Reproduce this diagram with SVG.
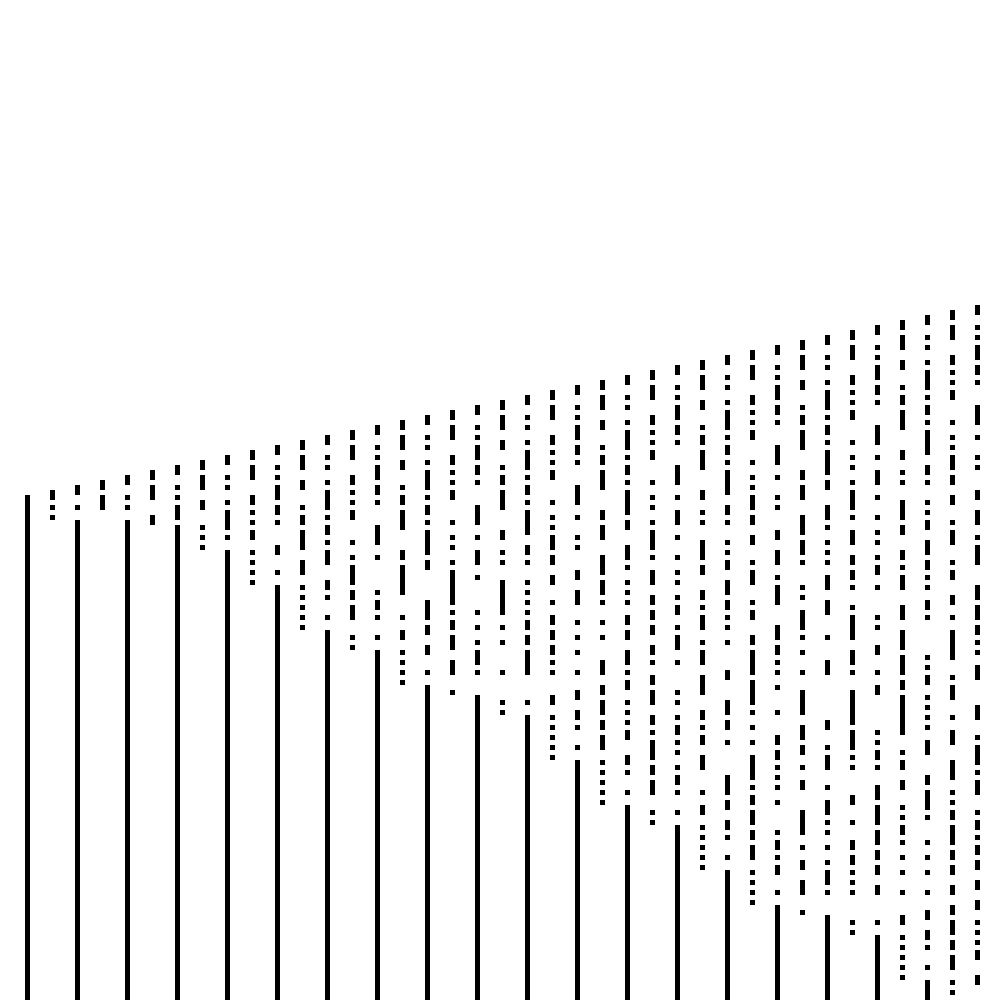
<svg xmlns="http://www.w3.org/2000/svg" width="1000" height="1000" viewBox="0 0 1000 1000">
<style>path{fill:none;stroke:#000;stroke-width:5;shape-rendering:crispEdges}</style>
<rect width="1000" height="1000" fill="#fff"/>
<path transform="translate(27.5 0)" d="M0 495V1000"/>
<path transform="translate(52.5 0)" d="M0 490V500M0 505V510M0 515V520"/>
<path transform="translate(77.5 0)" d="M0 485V495M0 505V510M0 520V1000"/>
<path transform="translate(102.5 0)" d="M0 480V490M0 495V510"/>
<path transform="translate(127.5 0)" d="M0 475V485M0 495V500M0 505V510M0 520V1000"/>
<path transform="translate(152.5 0)" d="M0 470V480M0 485V500M0 515V525"/>
<path transform="translate(177.5 0)" d="M0 465V475M0 485V490M0 495V500M0 505V520M0 525V1000"/>
<path transform="translate(202.5 0)" d="M0 460V470M0 475V490M0 500V510M0 525V530M0 535V540M0 545V550"/>
<path transform="translate(227.5 0)" d="M0 455V465M0 475V480M0 485V490M0 500V505M0 510V530M0 535V540M0 550V1000"/>
<path transform="translate(252.5 0)" d="M0 450V460M0 465V480M0 495V505M0 510V515M0 520V525M0 530V540M0 550V555M0 560V565M0 570V575M0 580V585"/>
<path transform="translate(277.5 0)" d="M0 445V455M0 465V470M0 475V480M0 485V500M0 505V515M0 520V525M0 545V555M0 570V575M0 585V1000"/>
<path transform="translate(302.5 0)" d="M0 440V450M0 455V470M0 480V490M0 505V510M0 515V525M0 530V550M0 560V575M0 585V590M0 595V600M0 605V610M0 615V620M0 625V630"/>
<path transform="translate(327.5 0)" d="M0 435V445M0 455V460M0 465V470M0 480V485M0 490V510M0 515V520M0 525V535M0 540V545M0 550V565M0 580V590M0 595V600M0 615V620M0 630V1000"/>
<path transform="translate(352.5 0)" d="M0 430V440M0 445V460M0 475V485M0 490V495M0 500V505M0 510V520M0 540V545M0 555V560M0 565V585M0 590V600M0 605V620M0 635V640M0 645V650"/>
<path transform="translate(377.5 0)" d="M0 425V435M0 445V450M0 455V460M0 465V480M0 485V495M0 500V505M0 525V545M0 555V560M0 590V595M0 600V610M0 615V620M0 635V640M0 650V1000"/>
<path transform="translate(402.5 0)" d="M0 420V430M0 435V450M0 460V470M0 485V490M0 495V505M0 510V530M0 550V560M0 565V595M0 615V620M0 630V640M0 650V655M0 660V665M0 670V675M0 680V685"/>
<path transform="translate(427.5 0)" d="M0 415V425M0 435V440M0 445V450M0 460V465M0 470V490M0 495V500M0 505V515M0 520V525M0 530V555M0 560V570M0 600V620M0 625V635M0 645V655M0 670V675M0 685V1000"/>
<path transform="translate(452.5 0)" d="M0 410V420M0 425V440M0 455V465M0 470V475M0 480V485M0 490V500M0 520V525M0 535V540M0 545V550M0 560V565M0 570V605M0 610V615M0 620V630M0 635V650M0 660V675M0 690V695"/>
<path transform="translate(477.5 0)" d="M0 405V415M0 425V430M0 435V440M0 445V460M0 465V475M0 480V485M0 505V525M0 535V540M0 550V565M0 575V580M0 610V615M0 625V630M0 640V645M0 650V665M0 670V675M0 695V1000"/>
<path transform="translate(502.5 0)" d="M0 400V410M0 415V430M0 440V450M0 465V470M0 475V485M0 490V510M0 530V540M0 550V555M0 560V565M0 580V615M0 625V630M0 640V645M0 670V675M0 700V705M0 710V715"/>
<path transform="translate(527.5 0)" d="M0 395V405M0 415V420M0 425V430M0 440V445M0 450V470M0 475V480M0 485V495M0 500V505M0 510V535M0 545V555M0 560V565M0 580V585M0 590V595M0 600V605M0 610V615M0 620V630M0 635V645M0 650V675M0 700V705M0 715V1000"/>
<path transform="translate(552.5 0)" d="M0 390V400M0 405V420M0 435V445M0 450V455M0 460V465M0 470V480M0 500V505M0 515V520M0 525V530M0 535V550M0 555V565M0 575V585M0 600V605M0 615V625M0 630V640M0 645V655M0 660V665M0 670V675M0 695V705M0 715V720M0 725V730M0 735V740M0 745V750M0 755V760"/>
<path transform="translate(577.5 0)" d="M0 385V395M0 405V410M0 415V420M0 425V440M0 445V455M0 460V465M0 485V505M0 515V520M0 535V540M0 545V550M0 570V580M0 590V605M0 620V625M0 635V640M0 650V655M0 670V675M0 690V700M0 710V720M0 725V730M0 745V750M0 760V1000"/>
<path transform="translate(602.5 0)" d="M0 380V390M0 395V410M0 420V430M0 445V450M0 455V465M0 470V490M0 510V520M0 525V540M0 555V575M0 580V595M0 600V605M0 620V625M0 635V640M0 660V675M0 685V695M0 700V715M0 720V730M0 735V750M0 760V765M0 770V775M0 780V785M0 790V795M0 800V805"/>
<path transform="translate(627.5 0)" d="M0 375V385M0 395V400M0 405V410M0 420V425M0 430V450M0 455V460M0 465V475M0 480V485M0 490V515M0 520V530M0 545V560M0 565V570M0 580V585M0 590V595M0 600V605M0 615V625M0 630V640M0 650V665M0 670V675M0 680V690M0 700V705M0 710V715M0 720V725M0 730V740M0 755V765M0 770V775M0 790V795M0 805V1000"/>
<path transform="translate(652.5 0)" d="M0 370V380M0 385V400M0 415V425M0 430V435M0 440V445M0 450V460M0 480V485M0 495V500M0 505V510M0 520V525M0 530V550M0 555V560M0 570V585M0 595V605M0 610V620M0 625V635M0 645V655M0 660V665M0 675V685M0 690V705M0 715V725M0 730V735M0 740V760M0 765V775M0 780V795M0 810V815M0 820V825"/>
<path transform="translate(677.5 0)" d="M0 365V375M0 385V390M0 395V400M0 405V420M0 425V435M0 440V445M0 465V485M0 495V500M0 510V525M0 535V540M0 555V560M0 570V575M0 580V585M0 595V600M0 605V615M0 625V630M0 635V650M0 660V665M0 690V695M0 700V705M0 715V720M0 725V735M0 740V745M0 750V755M0 765V770M0 775V785M0 790V795M0 810V815M0 825V1000"/>
<path transform="translate(702.5 0)" d="M0 360V370M0 375V390M0 400V410M0 425V430M0 435V445M0 450V470M0 490V500M0 510V515M0 520V525M0 540V560M0 565V575M0 590V600M0 605V610M0 615V630M0 640V645M0 650V665M0 675V695M0 710V720M0 725V730M0 735V745M0 755V770M0 790V795M0 805V815M0 825V830M0 835V840M0 845V850M0 855V860M0 865V870"/>
<path transform="translate(727.5 0)" d="M0 355V365M0 375V380M0 385V390M0 400V405M0 410V430M0 435V440M0 445V455M0 460V465M0 470V495M0 505V515M0 520V525M0 540V545M0 550V555M0 560V570M0 580V595M0 600V610M0 615V620M0 625V630M0 640V645M0 670V680M0 700V715M0 720V730M0 740V745M0 775V795M0 800V810M0 820V830M0 835V840M0 855V860M0 870V1000"/>
<path transform="translate(752.5 0)" d="M0 350V360M0 365V380M0 395V405M0 410V415M0 420V425M0 430V440M0 460V465M0 475V480M0 485V490M0 495V510M0 515V525M0 535V545M0 560V565M0 570V585M0 600V605M0 610V620M0 635V645M0 650V675M0 680V705M0 710V715M0 725V730M0 740V745M0 755V780M0 785V790M0 795V805M0 810V825M0 830V840M0 845V860M0 870V875M0 880V885M0 890V895M0 900V905"/>
<path transform="translate(777.5 0)" d="M0 345V355M0 365V370M0 375V380M0 385V400M0 405V415M0 420V425M0 445V465M0 475V480M0 495V500M0 505V510M0 530V540M0 550V565M0 575V580M0 585V605M0 625V640M0 645V655M0 660V665M0 670V675M0 685V690M0 710V715M0 735V745M0 750V760M0 765V770M0 775V780M0 785V790M0 800V805M0 830V835M0 840V850M0 855V860M0 865V875M0 890V895M0 905V1000"/>
<path transform="translate(802.5 0)" d="M0 340V350M0 355V370M0 380V390M0 405V410M0 415V425M0 430V450M0 470V480M0 485V500M0 515V535M0 540V555M0 560V565M0 585V590M0 595V600M0 610V630M0 635V640M0 650V655M0 670V675M0 690V715M0 725V740M0 745V755M0 765V770M0 780V790M0 810V835M0 845V850M0 860V870M0 880V895M0 910V915"/>
<path transform="translate(827.5 0)" d="M0 335V345M0 355V360M0 365V370M0 380V385M0 390V410M0 415V420M0 425V435M0 440V445M0 450V475M0 480V490M0 505V520M0 525V530M0 540V545M0 550V555M0 560V565M0 575V590M0 600V615M0 635V640M0 660V675M0 720V730M0 745V750M0 755V770M0 785V790M0 800V815M0 820V825M0 830V835M0 845V850M0 860V865M0 870V885M0 890V895M0 915V1000"/>
<path transform="translate(852.5 0)" d="M0 330V340M0 345V360M0 375V385M0 390V395M0 400V405M0 410V420M0 440V445M0 455V460M0 465V470M0 480V485M0 490V510M0 515V520M0 530V545M0 555V565M0 570V580M0 585V590M0 605V610M0 615V640M0 650V665M0 670V675M0 690V725M0 730V750M0 755V760M0 765V770M0 795V805M0 820V825M0 840V850M0 855V865M0 870V875M0 880V885M0 890V895M0 920V925M0 930V935"/>
<path transform="translate(877.5 0)" d="M0 325V335M0 345V350M0 355V360M0 365V380M0 385V395M0 400V405M0 425V445M0 455V460M0 470V485M0 495V500M0 515V520M0 530V535M0 540V545M0 555V560M0 565V575M0 585V590M0 615V620M0 625V630M0 645V655M0 670V675M0 685V695M0 730V735M0 740V745M0 750V760M0 765V770M0 785V800M0 805V825M0 830V845M0 850V860M0 865V875M0 885V895M0 920V925M0 935V1000"/>
<path transform="translate(902.5 0)" d="M0 320V330M0 335V350M0 360V370M0 385V390M0 395V405M0 410V430M0 450V460M0 470V475M0 480V485M0 500V520M0 525V535M0 550V560M0 565V570M0 575V590M0 605V620M0 630V650M0 655V675M0 680V690M0 695V735M0 750V755M0 760V770M0 780V790M0 805V810M0 815V820M0 825V835M0 840V845M0 855V860M0 870V875M0 890V895M0 915V925M0 935V940M0 945V950M0 955V960M0 965V970M0 975V980"/>
<path transform="translate(927.5 0)" d="M0 315V325M0 335V340M0 345V350M0 360V365M0 370V390M0 395V400M0 405V415M0 420V425M0 430V455M0 465V475M0 480V485M0 500V505M0 510V515M0 520V530M0 540V555M0 560V570M0 575V580M0 585V590M0 600V610M0 615V620M0 655V660M0 665V670M0 675V685M0 695V700M0 705V710M0 715V720M0 725V730M0 740V755M0 775V785M0 790V810M0 815V820M0 840V845M0 855V860M0 870V875M0 890V895M0 910V920M0 930V940M0 945V950M0 965V970M0 980V1000"/>
<path transform="translate(952.5 0)" d="M0 310V320M0 325V340M0 355V365M0 370V375M0 380V385M0 390V400M0 420V425M0 435V440M0 445V450M0 455V470M0 475V485M0 495V505M0 520V525M0 530V545M0 560V565M0 570V580M0 595V605M0 615V620M0 630V660M0 675V680M0 685V700M0 715V720M0 730V745M0 760V780M0 790V795M0 800V805M0 810V820M0 825V845M0 850V860M0 865V875M0 885V895M0 905V915M0 920V935M0 940V950M0 955V970M0 980V985M0 990V995"/>
<path transform="translate(977.5 0)" d="M0 305V315M0 325V330M0 335V340M0 345V360M0 365V375M0 380V385M0 405V425M0 435V440M0 455V460M0 465V470M0 490V500M0 510V525M0 535V540M0 545V565M0 585V600M0 605V620M0 625V635M0 640V645M0 650V655M0 665V680M0 705V720M0 735V740M0 745V765M0 770V775M0 780V795M0 810V815M0 820V830M0 835V840M0 845V855M0 860V870M0 880V890M0 900V910M0 920V925M0 930V935M0 940V945M0 950V960M0 975V985"/>
</svg>
